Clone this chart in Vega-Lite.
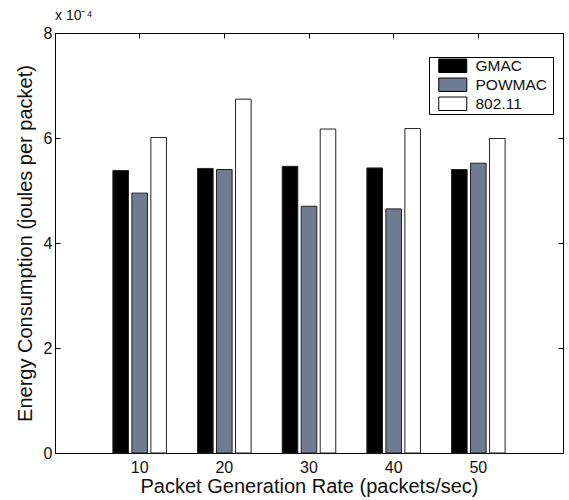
{
  "$schema": "https://vega.github.io/schema/vega-lite/v6.json",
  "width": 508,
  "height": 420,
  "autosize": {"type": "none"},
  "padding": {"left": 55, "top": 33, "right": 6, "bottom": 47},
  "background": "white",
  "config": {
    "font": "Liberation Sans",
    "view": {"stroke": "#000", "strokeWidth": 1},
    "axis": {
      "grid": false,
      "domainColor": "#000",
      "domainWidth": 1,
      "tickColor": "#000",
      "labelColor": "#111",
      "titleColor": "#111",
      "labelFont": "Liberation Sans",
      "titleFont": "Liberation Sans",
      "labelFontSize": 16,
      "titleFontSize": 20,
      "titleFontWeight": "normal"
    }
  },
  "title": {
    "text": "x 10⁻⁴",
    "anchor": "start",
    "frame": "group",
    "fontSize": 14,
    "fontWeight": "normal",
    "color": "#111",
    "offset": 2
  },
  "data": {
    "values": [
      {"rate": 10, "protocol": "GMAC", "energy": 0.000538},
      {"rate": 10, "protocol": "POWMAC", "energy": 0.000495},
      {"rate": 10, "protocol": "802.11", "energy": 0.000601},
      {"rate": 20, "protocol": "GMAC", "energy": 0.000542},
      {"rate": 20, "protocol": "POWMAC", "energy": 0.000540},
      {"rate": 20, "protocol": "802.11", "energy": 0.000674},
      {"rate": 30, "protocol": "GMAC", "energy": 0.000546},
      {"rate": 30, "protocol": "POWMAC", "energy": 0.000470},
      {"rate": 30, "protocol": "802.11", "energy": 0.000617},
      {"rate": 40, "protocol": "GMAC", "energy": 0.000543},
      {"rate": 40, "protocol": "POWMAC", "energy": 0.000465},
      {"rate": 40, "protocol": "802.11", "energy": 0.000618},
      {"rate": 50, "protocol": "GMAC", "energy": 0.000540},
      {"rate": 50, "protocol": "POWMAC", "energy": 0.000552},
      {"rate": 50, "protocol": "802.11", "energy": 0.000599}
    ]
  },
  "layer": [
    {
      "mark": {"type": "bar", "stroke": "#222", "strokeWidth": 1},
      "encoding": {
        "x": {
          "field": "rate",
          "type": "ordinal",
          "scale": {"paddingInner": 0.327, "paddingOuter": 0.6635},
          "axis": {
            "orient": "bottom",
            "title": "Packet Generation Rate (packets/sec)",
            "labelAngle": 0,
            "tickSize": -5,
            "labelPadding": 11,
            "titlePadding": 1
          }
        },
        "xOffset": {
          "field": "protocol",
          "type": "nominal",
          "sort": ["GMAC", "POWMAC", "802.11"],
          "scale": {"paddingInner": 0.18, "paddingOuter": 0.09}
        },
        "y": {
          "field": "energy",
          "type": "quantitative",
          "scale": {"domain": [0, 0.0008], "nice": false},
          "axis": {
            "orient": "left",
            "title": "Energy Consumption (joules per packet)",
            "values": [0, 0.0002, 0.0004, 0.0006, 0.0008],
            "labelExpr": "format(datum.value * 10000, 'd')",
            "tickSize": -5,
            "labelPadding": 8,
            "titlePadding": 8
          }
        },
        "color": {
          "field": "protocol",
          "type": "nominal",
          "sort": ["GMAC", "POWMAC", "802.11"],
          "scale": {"domain": ["GMAC", "POWMAC", "802.11"], "range": ["#000000", "#6e7b91", "#ffffff"]},
          "legend": {
            "title": "\u00a0",
            "titleOrient": "right",
            "titleFontSize": 14,
            "titlePadding": 5,
            "orient": "none",
            "legendX": 374,
            "legendY": 24,
            "symbolType": "M-2,-0.96H2V0.96H-2Z",
            "symbolSize": 196,
            "symbolStrokeColor": "#000",
            "symbolStrokeWidth": 1,
            "symbolOffset": 15,
            "labelOffset": 15,
            "labelFontSize": 15.5,
            "labelColor": "#111",
            "rowPadding": 1,
            "padding": 1,
            "strokeColor": "#000",
            "fillColor": "#fff"
          }
        }
      }
    },
    {
      "mark": {"type": "tick", "opacity": 0},
      "encoding": {
        "x": {
          "field": "rate",
          "type": "ordinal",
          "axis": {"orient": "top", "title": null, "labels": false, "tickSize": -5}
        },
        "y": {
          "field": "energy",
          "type": "quantitative",
          "axis": {"orient": "right", "title": null, "labels": false, "values": [0, 0.0002, 0.0004, 0.0006, 0.0008], "tickSize": -5}
        }
      }
    }
  ],
  "resolve": {"axis": {"x": "independent", "y": "independent"}}
}
